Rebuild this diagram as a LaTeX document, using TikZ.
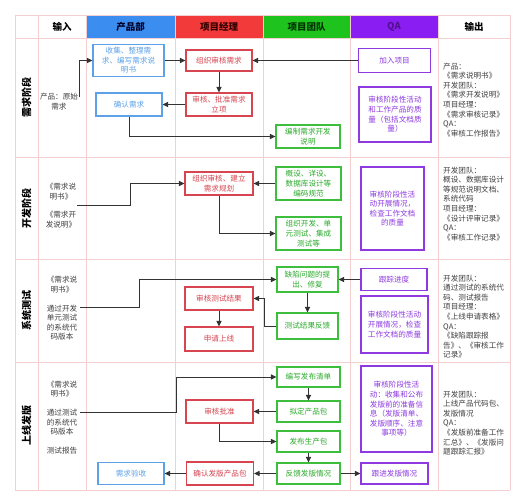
\documentclass[tikz,border=0pt]{standalone}
\usepackage{fontspec}
\setmainfont{Noto Sans CJK SC}
\usetikzlibrary{arrows.meta}
\definecolor{cB}{HTML}{5DA2E8}
\definecolor{cR}{HTML}{D64550}
\definecolor{cG}{HTML}{3DBE3D}
\definecolor{cGt}{HTML}{2DAA2D}
\definecolor{cP}{HTML}{8E3AE0}
\definecolor{hB}{HTML}{3B8EEF}
\definecolor{hR}{HTML}{F23A3A}
\definecolor{hG}{HTML}{1EC31E}
\definecolor{hP}{HTML}{8A1DF2}
\definecolor{grid}{HTML}{F3CFCF}
\definecolor{cA}{HTML}{333333}
\newcommand{\fs}{\fontsize{7.6}{9.6}\selectfont}
\newcommand{\hf}{\fontsize{9.5}{10}\selectfont\bfseries}
\tikzset{
  box/.style={draw, line width=1.1pt, fill=white, align=center, inner sep=0pt, font=\fs},
  bbox/.style={box, draw=cB, text=cB},
  rbox/.style={box, draw=cR, text=cR},
  gbox/.style={box, draw=cG, text=cGt},
  pbox/.style={box, draw=cP, text=cP},
  arr/.style={draw=cA, line width=1pt, -{Triangle[length=5.5pt,width=5pt]}},
  gline/.style={draw=grid, line width=0.9pt},
  intext/.style={align=center, inner sep=0pt, font=\fs, text=black!75},
  outtext/.style={align=left, inner sep=0pt, anchor=north west, font=\fs, text=black!75},
  sect/.style={rotate=90, inner sep=0pt, font=\fontsize{10}{10}\selectfont\bfseries},
  head/.style={inner sep=0pt, font=\hf}
}
\begin{document}
\begin{tikzpicture}[x=1pt,y=-1pt]
\useasboundingbox (0,0) rectangle (525,500);
\fill[white] (0,0) rectangle (525,500);
% header fills
\fill[hB] (86,15) rectangle (175,38);
\fill[hR] (175,15) rectangle (263,38);
\fill[hG] (263,15) rectangle (350,38);
\fill[hP] (350,15) rectangle (438,38);
% grid
\foreach \x in {15,38,86,175,263,350,438,510} \draw[gline] (\x,15) -- (\x,490);
\foreach \y in {15,38,157,259,362,490} \draw[gline] (15,\y) -- (510,\y);
% headers
\node[head] (h1) at (62,26.5) {输入};
\node[head, text=black!85!blue] (h2) at (130.5,26.5) {产品部};
\node[head, text=black!80!red] (h3) at (219,26.5) {项目经理};
\node[head, text=black!80!green] (h4) at (306.5,26.5) {项目团队};
\node[head, text=hP!60!black] (h5) at (394,26.5) {QA};
\node[head] (h6) at (474,26.5) {输出};
% section labels
\node[sect] (s1) at (26.5,98) {需求阶段};
\node[sect] (s2) at (26.5,208) {开发阶段};
\node[sect] (s3) at (26.5,310) {系统测试};
\node[sect] (s4) at (26.5,425) {上线发版};

% ---------- row 1 ----------
\node[bbox, minimum width=71pt, minimum height=32pt] (b1) at (128.5,60.5) {收集、整理需\\求、编写需求说\\明书};
\node[rbox, minimum width=66pt, minimum height=21pt] (r1a) at (219,60.5) {组织审核需求};
\node[rbox, minimum width=66pt, minimum height=23pt] (r1b) at (219,104.5) {审核、批准需求\\立项};
\node[bbox, minimum width=66pt, minimum height=23pt] (b1b) at (129,104.5) {确认需求};
\node[pbox, minimum width=72pt, minimum height=24pt] (q1a) at (394.5,60.5) {加入项目};
\node[pbox, minimum width=72pt, minimum height=55pt] (q1b) at (395,114.5) {审核阶段性活动\\和工作产品的质\\量（包括文档质\\量）};
\node[gbox, minimum width=64pt, minimum height=23pt] (g1) at (308,136.5) {编制需求开发\\说明};
\node[intext] (i1) at (59,101.5) {产品：原始\\需求};
\coordinate (c1) at (79,97);
\node[outtext] (o1) at (443,62.5) {产品：\\《需求说明书》\\开发团队：\\《需求开发说明》\\项目经理：\\《需求审核记录》\\QA：\\《审核工作报告》};
\draw[arr] (c1) |- (b1.west);
\draw[arr] (b1.east) -- (r1a.west);
\draw[arr] (q1a.west) -- (r1a.east);
\draw[arr] (r1a.south) -- (r1b.north);
\draw[arr] (r1b.west) -- (b1b.east);
\draw[arr] (b1b.south) |- (g1.west);

% ---------- row 2 ----------
\node[rbox, minimum width=68pt, minimum height=23pt] (r2) at (219,183.5) {组织审核、建立\\需求规划};
\node[gbox, minimum width=65pt, minimum height=33pt] (g2a) at (308.5,183.5) {概设、详设、\\数据库设计等\\编码规范};
\node[gbox, minimum width=65pt, minimum height=33pt] (g2b) at (308.5,233.5) {组织开发、单\\元测试、集成\\测试等};
\node[pbox, minimum width=63pt, minimum height=83pt] (q2) at (392.5,208.5) {审核阶段性活\\动开展情况，\\检查工作文档\\的质量};
\node[intext] (i2) at (61,205.5) {《需求说\\明书》\\[9pt]《需求开\\发说明》};
\coordinate (c2) at (77,205);
\node[outtext] (o2) at (443,166.5) {开发团队：\\概设、数据库设计\\等规范说明文档、\\系统代码\\项目经理：\\《设计评审记录》\\QA：\\《审核工作记录》};
\draw[arr] (c2) -- (130,205) |- (r2.west);
\draw[arr] (g2a.west) -- (r2.east);
\draw[arr] (r2.south) |- (g2b.west);

% ---------- row 3 ----------
\node[gbox, minimum width=61pt, minimum height=25pt] (g3a) at (307.5,279.5) {缺陷问题的提\\出、修复};
\node[gbox, minimum width=61pt, minimum height=26pt] (g3b) at (307.5,326) {测试结果反馈};
\node[rbox, minimum width=68pt, minimum height=23pt] (r3a) at (219,298.5) {审核测试结果};
\node[rbox, minimum width=68pt, minimum height=24pt] (r3b) at (219,339) {申请上线};
\node[pbox, minimum width=66pt, minimum height=22pt] (q3a) at (394,279.5) {跟踪进度};
\node[pbox, minimum width=67pt, minimum height=57pt] (q3b) at (394.5,324.5) {审核阶段性活动\\开展情况，检查\\工作文档的质量};
\node[intext] (i3) at (62,308.5) {《需求说\\明书》\\[9pt]通过开发\\单元测试\\的系统代\\码版本};
\coordinate (c3) at (80,307);
\node[outtext] (o3) at (443,274.5) {开发团队：\\通过测试的系统代\\码、测试报告\\项目经理：\\《上线申请表格》\\QA：\\《缺陷跟踪报\\告》、《审核工作\\记录》};
\draw[arr] (c3) -- (139,307) |- (g3a.west);
\draw[arr] (q3a.west) -- (g3a.east);
\draw[arr] (g3a.south) -- (g3b.north);
\draw[arr] (g3b.west) -- ++(-12,0) |- (r3a.east);
\draw[arr] (r3a.south) -- (r3b.north);

% ---------- row 4 ----------
\node[gbox, minimum width=63pt, minimum height=20pt] (g4a) at (308.5,377) {编写发布清单};
\node[gbox, minimum width=63pt, minimum height=21pt] (g4b) at (308.5,411.5) {拟定产品包};
\node[gbox, minimum width=63pt, minimum height=21pt] (g4c) at (308.5,441.5) {发布生产包};
\node[gbox, minimum width=63pt, minimum height=21pt] (g4d) at (308.5,473.5) {反馈发版情况};
\node[rbox, minimum width=67pt, minimum height=23pt] (r4a) at (219.5,411.5) {审核批准};
\node[rbox, minimum width=67pt, minimum height=23pt] (r4b) at (220,473.5) {确认发版产品包};
\node[bbox, minimum width=66pt, minimum height=22pt] (b4) at (131,473.5) {需求验收};
\node[pbox, minimum width=71pt, minimum height=86pt] (q4a) at (396.5,409) {审核阶段性活\\动：收集和公布\\发版前的准备信\\息（发版清单、\\发版顺序、注意\\事项等）};
\node[pbox, minimum width=67pt, minimum height=21pt] (q4b) at (394.5,473.5) {跟进发版情况};
\node[intext] (i4) at (62,417.5) {《需求说\\明书》\\[9pt]通过测试\\的系统代\\码版本\\[9pt]测试报告};
\coordinate (c4) at (80,412);
\node[outtext] (o4) at (443,390.5) {开发团队：\\上线产品代码包、\\发版情况\\QA：\\《发版前准备工作\\汇总》、《发版问\\题跟踪汇报》};
\draw[arr] (c4) -- (176,412) |- (g4a.west);
\draw[arr] (g4a.south) -- (g4b.north);
\draw[arr] (g4b.west) -- (r4a.east);
\draw[arr] (r4a.south) |- (g4c.west);
\draw[arr] (g4c.south) -- (g4d.north);
\draw[arr] (g4d.west) -- (r4b.east);
\draw[arr] (r4b.west) -- (b4.east);
\draw[arr] (g4d.east) -- (q4b.west);
\end{tikzpicture}
\end{document}
